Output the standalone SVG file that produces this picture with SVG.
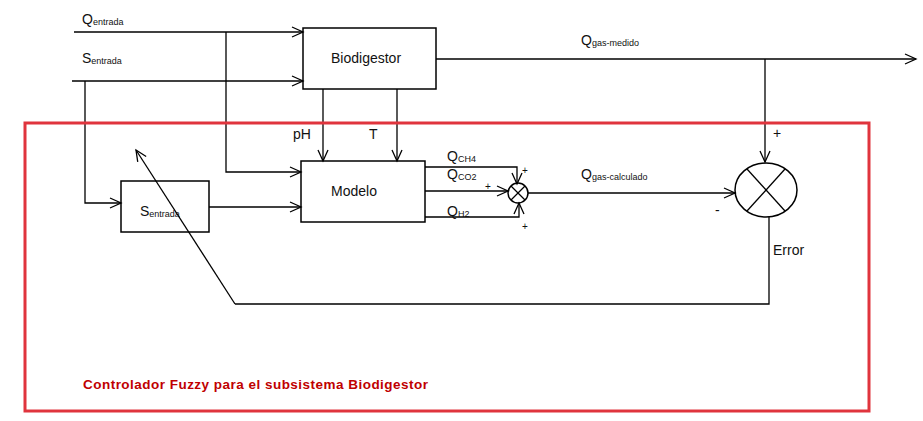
<svg xmlns="http://www.w3.org/2000/svg" width="923" height="421" viewBox="0 0 923 421">
<style>
.l{fill:none;stroke:#000;stroke-width:1.3}
.a{fill:none;stroke:#000;stroke-width:1.3;marker-end:url(#ar)}
.box{fill:#fff;stroke:#000;stroke-width:1.5}
text{font-family:"Liberation Sans",Arial,sans-serif;fill:#111}
.t{font-size:14px}
.s{font-size:9px}
.p{font-size:10px}
</style>
<defs>
<marker id="ar" markerWidth="14" markerHeight="12" refX="12" refY="6" orient="auto" markerUnits="userSpaceOnUse">
<polyline points="1,1 12,6 1,11" fill="none" stroke="#000" stroke-width="1.3"/>
</marker>
</defs>
<g id="biodigestor">
<rect class="box" x="303" y="28" width="133" height="61"/>
<text class="t" x="331" y="63">Biodigestor</text>
</g>
<g id="modelo">
<rect class="box" x="301" y="161" width="124" height="61"/>
<text class="t" x="331" y="196">Modelo</text>
</g>
<g id="sentrada-box">
<rect class="box" x="121" y="181" width="88" height="51"/>
<text class="t" x="140" y="216">S<tspan class="s" dy="1">entrada</tspan></text>
</g>
<g id="sum1">
<circle cx="518" cy="193" r="10" fill="#fff" stroke="#000" stroke-width="1.5"/>
<line class="l" x1="511" y1="186" x2="525" y2="200"/>
<line class="l" x1="525" y1="186" x2="511" y2="200"/>
</g>
<g id="sum2">
<ellipse cx="766" cy="190" rx="31" ry="27" fill="#fff" stroke="#000" stroke-width="1.5"/>
<line class="l" x1="747" y1="169" x2="785" y2="211"/>
<line class="l" x1="785" y1="169" x2="747" y2="211"/>
</g>
<g id="connectors">
<line class="a" x1="74" y1="32" x2="303" y2="32"/>
<line class="a" x1="72" y1="81" x2="303" y2="81"/>
<polyline class="a" points="226,32 226,172 301,172"/>
<polyline class="a" points="85,81 85,203 121,203"/>
<line class="a" x1="209" y1="207" x2="301" y2="207"/>
<line class="a" x1="323" y1="89" x2="323" y2="161"/>
<line class="a" x1="397" y1="89" x2="397" y2="161"/>
<polyline class="a" points="425,167 517,167 517,184"/>
<line class="a" x1="425" y1="191" x2="508" y2="191"/>
<polyline class="a" points="425,217 519,217 519,203"/>
<line class="a" x1="528" y1="193" x2="735" y2="193"/>
<line class="a" x1="436" y1="59" x2="916" y2="59"/>
<line class="a" x1="765" y1="59" x2="765" y2="162"/>
<polyline class="l" points="769,217 769,304 235,304"/>
<line class="a" x1="235" y1="304" x2="136" y2="150"/>
</g>
<rect x="25" y="123" width="844" height="288" fill="none" stroke="#e0343d" stroke-width="3"/>
<g id="labels">
<text class="t" x="82" y="24">Q<tspan class="s" dy="1">entrada</tspan></text>
<text class="t" x="82" y="63">S<tspan class="s" dy="1">entrada</tspan></text>
<text class="t" x="581" y="45">Q<tspan class="s" dy="1">gas-medido</tspan></text>
<text class="t" x="581" y="179">Q<tspan class="s" dy="1">gas-calculado</tspan></text>
<text class="t" x="293" y="139">pH</text>
<text class="t" x="369" y="139">T</text>
<text class="t" x="447" y="161">Q<tspan class="s" dy="1">CH4</tspan></text>
<text class="t" x="447" y="179">Q<tspan class="s" dy="1">CO2</tspan></text>
<text class="t" x="447" y="216">Q<tspan class="s" dy="1">H2</tspan></text>
<text class="p" x="522" y="174">+</text>
<text class="p" x="485" y="190">+</text>
<text class="p" x="522" y="230">+</text>
<text class="t" x="773" y="138">+</text>
<text class="t" x="715" y="215">-</text>
<text class="t" x="773" y="255">Error</text>
<text x="83" y="389" font-size="13.5" font-weight="bold" style="fill:#c00000" textLength="345">Controlador  Fuzzy para  el subsistema  Biodigestor</text>
</g>
</svg>
